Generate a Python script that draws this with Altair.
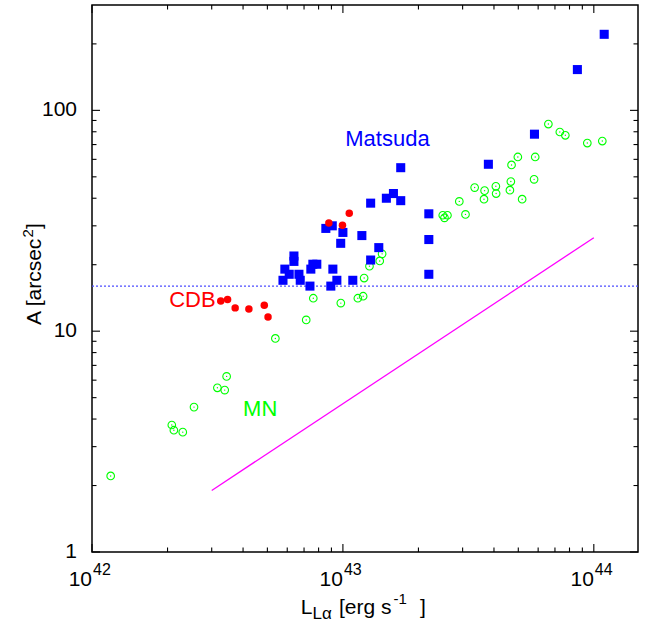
import altair as alt
import pandas as pd

FONT = "Liberation Sans"

# ---------------- data ----------------
# Matsuda (blue filled squares)
mat_L = [1.10e44, 8.6e43, 5.8e43, 3.8e43, 1.70e43, 1.59e43, 1.49e43, 1.70e43, 1.29e43, 2.2e43,
         8.55e42, 9.07e42, 1.0e43, 9.8e42, 1.19e43, 2.2e43, 1.39e43, 6.38e42, 6.38e42, 1.29e43,
         7.59e42, 7.87e42, 5.87e42, 6.11e42, 7.45e42, 9.12e42, 6.68e42, 5.77e42, 6.76e42, 9.46e42,
         1.095e43, 2.2e43, 7.39e42, 8.95e42]
mat_A = [221, 153, 78, 57, 55, 42, 40, 39, 38, 34,
         29.2, 30, 28, 25, 27.1, 26, 23.9, 21.9, 20.7, 21,
         20.1, 20.1, 19.1, 18.1, 19.1, 19.1, 18.1, 17.0, 17.0, 17.0,
         17.0, 18.1, 16.0, 16.0]

# CDB (red filled circles)
cdb_L = [3.26e42, 3.47e42, 3.72e42, 4.22e42, 4.86e42, 5.03e42, 8.79e42, 9.96e42, 1.06e43]
cdb_A = [13.7, 13.9, 12.75, 12.6, 13.1, 11.6, 30.9, 30.2, 34.2]

# MN (green open circles with a dot)
mn_L = [6.59e43, 7.32e43, 7.70e43, 9.42e43, 1.081e44, 4.98e43, 5.84e43, 4.70e43, 5.78e43, 4.67e43,
        3.35e43, 4.07e43, 3.67e43, 4.63e43, 4.08e43, 3.65e43, 5.18e43, 2.91e43, 3.08e43, 2.50e43,
        2.61e43, 2.54e43, 1.433e43, 1.276e43, 1.402e43, 1.215e43, 7.62e42, 9.81e42, 1.147e43, 1.204e43,
        7.14e42, 5.38e42, 3.44e42, 3.16e42, 3.38e42, 2.55e42, 2.08e42, 2.12e42, 2.30e42, 1.187e42]
mn_A = [86.7, 79.8, 77.1, 71.1, 72.6, 61.5, 61.5, 56.6, 48.7, 47.6,
        44.7, 45.3, 43.3, 43.5, 42.0, 39.6, 39.6, 38.7, 33.8, 33.5,
        33.5, 32.6, 22.4, 19.7, 20.8, 17.4, 14.1, 13.4, 14.1, 14.4,
        11.25, 9.27, 6.24, 5.54, 5.41, 4.53, 3.76, 3.56, 3.49, 2.21]

# magenta relation line (end points)
fit_L = [3.0e42, 1.0e44]
fit_A = [1.9, 26.5]

# horizontal dotted threshold
threshold_A = [16]

# series labels and their anchor points (data coordinates)
lab_text = ["Matsuda", "CDB", "MN"]
lab_L = [1.505e43, 3.11e42, 4.0e42]
lab_A = [68.7, 12.88, 4.14]

# axis ticks and labels
x_major = [1e42, 1e43, 1e44]
x_exp = ["42", "43", "44"]
x_minor = [2e42, 3e42, 4e42, 5e42, 6e42, 7e42, 8e42, 9e42,
           2e43, 3e43, 4e43, 5e43, 6e43, 7e43, 8e43, 9e43]
y_major = [1, 10, 100]
y_major_lab = ["1", "10", "100"]
y_minor = [2, 3, 4, 5, 6, 7, 8, 9, 20, 30, 40, 50, 60, 70, 80, 90, 200]

# ---------------- chart ----------------
W, H = 546, 547
xs = alt.Scale(type="log", domain=[1e42, 1.5e44], nice=False)
ys = alt.Scale(type="log", domain=[1, 300], nice=False)

X = lambda f: alt.X(f, type="quantitative", scale=xs, axis=None)
Y = lambda f: alt.Y(f, type="quantitative", scale=ys, axis=None)

mat = pd.DataFrame({"L": mat_L, "A": mat_A})
cdb = pd.DataFrame({"L": cdb_L, "A": cdb_A})
mn = pd.DataFrame({"L": mn_L, "A": mn_A})
fit = pd.DataFrame({"L": fit_L, "A": fit_A})
thr = pd.DataFrame({"A": threshold_A})
xmaj = pd.DataFrame({"v": x_major, "e": x_exp})
xmin = pd.DataFrame({"v": x_minor})
ymaj = pd.DataFrame({"v": y_major, "t": y_major_lab})
ymin = pd.DataFrame({"v": y_minor})

layers = []

thr_layer = alt.Chart(thr).mark_rule(color="#4d4dff", strokeDash=[2, 2], strokeWidth=1.3).encode(y=Y("A"))
layers.append(thr_layer)

fit_layer = alt.Chart(fit).mark_line(color="#ff00ff", strokeWidth=1.3).encode(x=X("L"), y=Y("A"))
layers.append(fit_layer)

mn_ring = alt.Chart(mn).mark_point(shape="circle", filled=False, size=58, strokeWidth=1.1,
                                   color="#00ff00", opacity=1).encode(x=X("L"), y=Y("A"))
mn_dot = alt.Chart(mn).mark_circle(size=2, color="#00ff00", opacity=1).encode(x=X("L"), y=Y("A"))
layers += [mn_ring, mn_dot]

mat_layer = alt.Chart(mat).mark_square(size=82, color="#0000ff", opacity=1).encode(x=X("L"), y=Y("A"))
layers.append(mat_layer)

cdb_layer = alt.Chart(cdb).mark_circle(size=56, color="#ff0000", opacity=1).encode(x=X("L"), y=Y("A"))
layers.append(cdb_layer)

lab_df = pd.DataFrame({"L": lab_L, "A": lab_A, "t": lab_text})
lab_colors = {"Matsuda": ("#0000ff", "center"), "CDB": ("#ff0000", "right"), "MN": ("#00ff00", "left")}
for name, (col, al) in lab_colors.items():
    layers.append(
        alt.Chart(lab_df).transform_filter(alt.datum.t == name)
        .mark_text(font=FONT, fontSize=22, color=col, align=al, baseline="alphabetic")
        .encode(x=X("L"), y=Y("A"), text="t:N")
    )

# ticks (inward, on all four sides)
MAJ, MIN = 8, 4.5
tk = dict(color="black", strokeWidth=1.1)
layers += [
    alt.Chart(xmaj).mark_rule(**tk).encode(x=X("v"), y=alt.value(H), y2=alt.value(H - MAJ)),
    alt.Chart(xmaj).mark_rule(**tk).encode(x=X("v"), y=alt.value(0), y2=alt.value(MAJ)),
    alt.Chart(xmin).mark_rule(**tk).encode(x=X("v"), y=alt.value(H), y2=alt.value(H - MIN)),
    alt.Chart(xmin).mark_rule(**tk).encode(x=X("v"), y=alt.value(0), y2=alt.value(MIN)),
    alt.Chart(ymaj).mark_rule(**tk).encode(y=Y("v"), x=alt.value(0), x2=alt.value(MAJ)),
    alt.Chart(ymaj).mark_rule(**tk).encode(y=Y("v"), x=alt.value(W), x2=alt.value(W - MAJ)),
    alt.Chart(ymin).mark_rule(**tk).encode(y=Y("v"), x=alt.value(0), x2=alt.value(MIN)),
    alt.Chart(ymin).mark_rule(**tk).encode(y=Y("v"), x=alt.value(W), x2=alt.value(W - MIN)),
]

# tick labels
layers += [
    alt.Chart(ymaj).mark_text(font=FONT, fontSize=21, align="right", baseline="middle", color="black")
    .encode(y=Y("v"), x=alt.value(-15), text="t:N"),
    alt.Chart(xmaj).mark_text(font=FONT, fontSize=21, align="right", baseline="alphabetic", dx=0,
                              color="black", text="10")
    .encode(x=X("v"), y=alt.value(581)),
    alt.Chart(xmaj).mark_text(font=FONT, fontSize=16, align="left", baseline="alphabetic", dx=1,
                              color="black")
    .encode(x=X("v"), y=alt.value(570), text="e:N"),
]


def piece(s, px, py, size=21, angle=0):
    return alt.Chart(alt.Data(values=[{"k": 1}])).mark_text(
        text=s, font=FONT, fontSize=size, color="black", align="left",
        baseline="alphabetic", angle=angle
    ).encode(x=alt.value(px), y=alt.value(py))


# x-axis title: L_{Lα} [erg s^{-1} ]
layers += [
    piece("L", 208.7, 609),
    piece("Lα", 220.5, 614, size=17),
    piece("[erg s", 247, 609),
    piece("-1", 301.5, 599, size=15),
    piece("]", 328, 609),
]

# y-axis title: A [arcsec^2] (rotated)
layers += [
    piece("A [arcsec", -51, 320, angle=270),
    piece("2", -59, 232.5, size=15, angle=270),
    piece("]", -51, 224, angle=270),
]

chart = alt.layer(*layers).properties(
    width=W, height=H,
    autosize=alt.AutoSizeParams(type="none"),
    padding={"left": 92, "top": 5, "right": 8, "bottom": 70},
).configure_view(stroke="black", strokeWidth=1.5)

chart.save("out.html", embed_options={"renderer": "svg", "actions": False})
